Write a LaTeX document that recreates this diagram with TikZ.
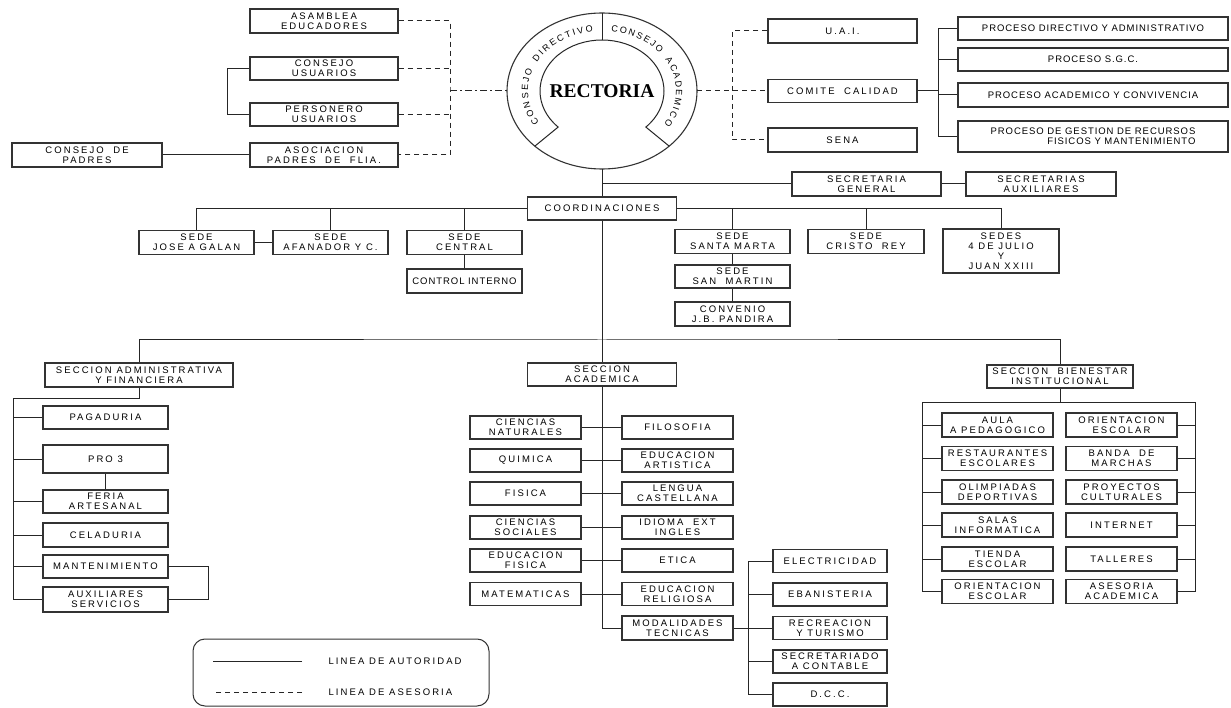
\documentclass[tikz,border=0pt]{standalone}
\usepackage{fontspec}
\usetikzlibrary{shapes.geometric,decorations.text}
\newfontfamily\boxfont[LetterSpace=22]{Liberation Sans}
\newfontfamily\procfont[LetterSpace=10]{Liberation Sans}
\newfontfamily\rectfont{Liberation Serif}
\newcommand\boxstyle{\boxfont\fontsize{9.5}{10}\selectfont}
\newcommand\procstyle{\procfont\fontsize{9.5}{10}\selectfont}
\newcommand\curvestyle{\boxfont\fontsize{9}{9}\selectfont}

\tikzset{
  orgbox/.style={draw=black!80, line width=1.2pt, fill=white, inner sep=0pt, align=center, font=\boxstyle},
  topbox/.style={orgbox, minimum width=148pt, minimum height=24pt},
  procbox/.style={orgbox, minimum width=270pt, minimum height=23pt, font=\procstyle},
  sedebox/.style={orgbox, minimum width=115pt, minimum height=24pt},
  admbox/.style={orgbox, minimum width=125pt, minimum height=23pt},
  subbox/.style={orgbox, minimum width=111pt, minimum height=23pt},
  modbox/.style={orgbox, minimum width=114pt, minimum height=23pt},
  link/.style={line width=1pt, draw=black!85},
  adv/.style={link, dash pattern=on 5pt off 4pt},
  advdot/.style={link, dash pattern=on 7pt off 3pt on 2pt off 3pt},
}

\begin{document}
\begin{tikzpicture}[x=1pt,y=-1pt]
\useasboundingbox (0,0) rectangle (1231,708);
\fill[white] (0,0) rectangle (1231,708);

% rectoria
\node[draw=black!80, line width=1.1pt, ellipse, inner sep=0pt, outer sep=0pt, minimum width=190pt, minimum height=156pt,
      font=\rectfont\bfseries\fontsize{19.5}{20}\selectfont] (rectoria) at (602,91) {RECTORIA};
\draw[link] ([shift={(135:95 and 78)}]rectoria.center) -- ([shift={(135:62 and 51)}]rectoria.center)
  arc[start angle=135, end angle=405, x radius=62, y radius=51] -- ([shift={(45:95 and 78)}]rectoria.center);
\draw[link] (rectoria.north) -- ([shift={(270:62 and 51)}]rectoria.center);
\path[decorate, decoration={text along path, text={|\curvestyle|CONSEJO DIRECTIVO}, text align={fit to path}}]
  ([shift={(148:74 and 60)}]rectoria.center) arc[start angle=148, end angle=263, x radius=74, y radius=60];
\path[decorate, decoration={text along path, text={|\curvestyle|CONSEJO ACADEMICO}, text align={fit to path}}]
  ([shift={(277:74 and 60)}]rectoria.center) arc[start angle=277, end angle=393, x radius=74, y radius=60];

% asesoria izquierda
\node[topbox] (asamblea) at (324,21) {ASAMBLEA\\EDUCADORES};
\node[topbox, minimum height=23pt] (conusu) at (324,68.5) {CONSEJO\\USUARIOS};
\node[topbox, minimum height=23pt] (personero) at (324,114.5) {PERSONERO\\USUARIOS};
\node[topbox] (asociacion) at (324,155) {ASOCIACION\\PADRES\ \ DE\ \ FLIA.};
\node[topbox, minimum width=150pt] (conpadres) at (87,155) {CONSEJO\ \ DE\\PADRES};
\coordinate (advl) at (450,91);
\draw[adv] (asamblea.east) -| (advl) |- (asociacion.east);
\draw[adv] (conusu.east) -- (conusu.east -| advl);
\draw[adv] (personero.east) -- (personero.east -| advl);
\draw[advdot] (advl) -- (rectoria.west);
\draw[link] (conusu.west) -- ++(-22,0) |- (personero.west);
\draw[link] (conpadres) -- (asociacion);

% asesoria derecha
\node[topbox, minimum width=149pt] (uai) at (842.5,31) {U.A.I.};
\node[topbox, minimum width=149pt, minimum height=23pt] (comite) at (842.5,91) {COMITE\ \ CALIDAD};
\node[topbox, minimum width=149pt] (sena) at (842.5,140) {SENA};
\draw[adv] (rectoria.east) -- (comite.west);
\draw[adv] (uai.west) -- ++(-35,0) |- (sena.west);

\node[procbox] (pdir) at (1093,28.5) {PROCESO DIRECTIVO Y ADMINISTRATIVO};
\node[procbox] (psgc) at (1093,59.5) {PROCESO S.G.C.};
\node[procbox, minimum height=24pt] (pacad) at (1093,95) {PROCESO ACADEMICO Y CONVIVENCIA};
\node[procbox, minimum height=31pt, align=right] (pges) at (1093,136.5) {PROCESO DE GESTION DE RECURSOS\\FISICOS Y MANTENIMIENTO};
\coordinate (pbus) at (938,91);
\draw[link] (comite.east) -- (pbus);
\draw[link] (pdir.west) -| (pbus) |- (pges.west);
\foreach \n in {psgc,pacad}
  \draw[link] (\n.west) -- (\n.west -| pbus);

% coordinaciones y sedes
\node[topbox, minimum width=149pt, minimum height=23pt] (coord) at (602,208.5) {COORDINACIONES};
\node[topbox, minimum width=149pt] (secgen) at (866.5,184) {SECRETARIA\\GENERAL};
\node[topbox, minimum width=150pt] (secaux) at (1041,184) {SECRETARIAS\\AUXILIARES};
\draw[link] (rectoria.south) -- (coord.north);
\draw[link] (rectoria.south |- secgen.west) -- (secgen.west);
\draw[link] (secgen) -- (secaux);

\node[sedebox] (jose) at (196.5,242.5) {SEDE\\JOSE A GALAN};
\node[sedebox] (afanador) at (330.5,242.5) {SEDE\\AFANADOR Y C.};
\node[sedebox] (central) at (464.5,242.5) {SEDE\\CENTRAL};
\node[sedebox, font=\procstyle] (control) at (464.5,281) {CONTROL INTERNO};
\node[sedebox] (stamarta) at (732.5,241.5) {SEDE\\SANTA MARTA};
\node[sedebox, minimum width=116pt] (cristo) at (866,241.5) {SEDE\\CRISTO\ \ REY};
\node[sedebox, minimum width=116pt, minimum height=44pt] (sedes4) at (1001,251) {SEDES\\4 DE JULIO\\Y\\JUAN XXIII};
\node[sedebox, minimum height=23pt] (sanmartin) at (732.5,276.5) {SEDE\\SAN\ \ MARTIN};
\node[sedebox] (convenio) at (732.5,314) {CONVENIO\\J.B. PANDIRA};
\foreach \n in {jose,afanador,central}
  \draw[link] (\n.north) |- (coord.west);
\foreach \n in {stamarta,cristo,sedes4}
  \draw[link] (\n.north) |- (coord.east);
\draw[link] (jose) -- (afanador);
\draw[link] (central) -- (control);
\draw[link] (stamarta) -- (sanmartin) -- (convenio);

% secciones
\coordinate (hub) at (602,340);
\node[orgbox, minimum width=188pt, minimum height=24pt] (admin) at (139,375) {SECCION ADMINISTRATIVA\\Y FINANCIERA};
\node[topbox, minimum width=149pt, minimum height=23pt] (academica) at (602,374.5) {SECCION\\ACADEMICA};
\node[topbox, minimum width=146pt, minimum height=23pt] (bienestar) at (1060,376.5) {SECCION\ \ BIENESTAR\\INSTITUCIONAL};
\draw[link] (coord.south) -- (academica.north);
\draw[link] (admin.north) |- (hub) -| (bienestar.north);

% administrativa
\node[admbox] (pagaduria) at (105.5,417.5) {PAGADURIA};
\node[admbox, minimum height=28pt] (pro) at (105.5,459) {PRO 3};
\node[admbox] (feria) at (105.5,501.5) {FERIA\\ARTESANAL};
\node[admbox, minimum height=24pt] (celaduria) at (105.5,535) {CELADURIA};
\node[admbox] (mant) at (105.5,566.5) {MANTENIMIENTO};
\node[admbox, minimum height=25pt] (auxserv) at (105.5,599.5) {AUXILIARES\\SERVICIOS};
\coordinate (abus) at (13,398);
\draw[link] (admin.south) |- (abus) |- (auxserv.west);
\foreach \n in {pagaduria,pro,feria,celaduria,mant}
  \draw[link] (\n.west) -- (\n.west -| abus);
\draw[link] (pro) -- (feria);
\draw[link] (mant.east) -- ++(40,0) |- (auxserv.east);

% academica
\foreach \i/\y/\lt/\rt in {1/427.5/{CIENCIAS\\NATURALES}/FILOSOFIA,
    2/460.5/QUIMICA/{EDUCACION\\ARTISTICA},
    3/493.5/FISICA/{LENGUA\\CASTELLANA},
    4/527.5/{CIENCIAS\\SOCIALES}/{IDIOMA\ \ EXT\\INGLES},
    5/560.5/{EDUCACION\\FISICA}/ETICA,
    6/594/MATEMATICAS/{EDUCACION\\RELIGIOSA}}{
  \node[subbox] (acl\i) at (525.5,\y) {\lt};
  \node[subbox] (acr\i) at (677.5,\y) {\rt};
  \draw[link] (acl\i) -- (acr\i);
}
\node[subbox, minimum height=24pt] (modal) at (677.5,628) {MODALIDADES\\TECNICAS};
\draw[link] (academica.south) |- (modal.west);

\foreach \i/\y/\t in {1/561/ELECTRICIDAD, 2/594.5/EBANISTERIA, 3/628/{RECREACION\\Y TURISMO},
    4/661.5/{SECRETARIADO\\A CONTABLE}, 5/694.5/D.C.C.}
  \node[modbox] (mod\i) at (830,\y) {\t};
\coordinate (mbus) at (748,628);
\draw[link] (modal) -- (mod3);
\draw[link] (mod1.west) -| (mbus) |- (mod5.west);
\foreach \i in {2,4}
  \draw[link] (mod\i.west) -- (mod\i.west -| mbus);

% bienestar
\coordinate (bl) at (922,402);
\coordinate (br) at (1195,402);
\draw[link] (bienestar.south) -- (bienestar.south |- bl);
\draw[link] (bl) -- (br);
\foreach \i/\y/\lt/\rt in {1/425/{AULA\\A PEDAGOGICO}/{ORIENTACION\\ESCOLAR},
    2/458.5/{RESTAURANTES\\ESCOLARES}/{BANDA\ \ DE\\MARCHAS},
    3/492/{OLIMPIADAS\\DEPORTIVAS}/{PROYECTOS\\CULTURALES},
    4/525/{SALAS\\INFORMATICA}/INTERNET,
    5/559/{TIENDA\\ESCOLAR}/TALLERES,
    6/591.5/{ORIENTACION\\ESCOLAR}/{ASESORIA\\ACADEMICA}}{
  \node[subbox, minimum height=24pt] (bwl\i) at (997.5,\y) {\lt};
  \node[subbox, minimum height=24pt] (bwr\i) at (1121.5,\y) {\rt};
  \draw[link] (bwl\i.west) -- (bwl\i.west -| bl);
  \draw[link] (bwr\i.east) -- (bwr\i.east -| br);
}
\draw[link] (bl) |- (bwl6.west);
\draw[link] (br) |- (bwr6.east);

% convenciones
\node[draw=black!80, line width=1pt, rounded corners=12pt, minimum width=296pt, minimum height=67pt] (legend) at (341,672.5) {};
\node[anchor=west, font=\boxstyle] (autlbl) at (325,661) {LINEA DE AUTORIDAD};
\node[anchor=west, font=\boxstyle] (asolbl) at (325,692) {LINEA DE ASESORIA};
\draw[link] ([xshift=-23pt]autlbl.west) -- ++(-89,0);
\draw[adv] ([xshift=-23pt]asolbl.west) -- ++(-89,0);
\end{tikzpicture}
\end{document}
